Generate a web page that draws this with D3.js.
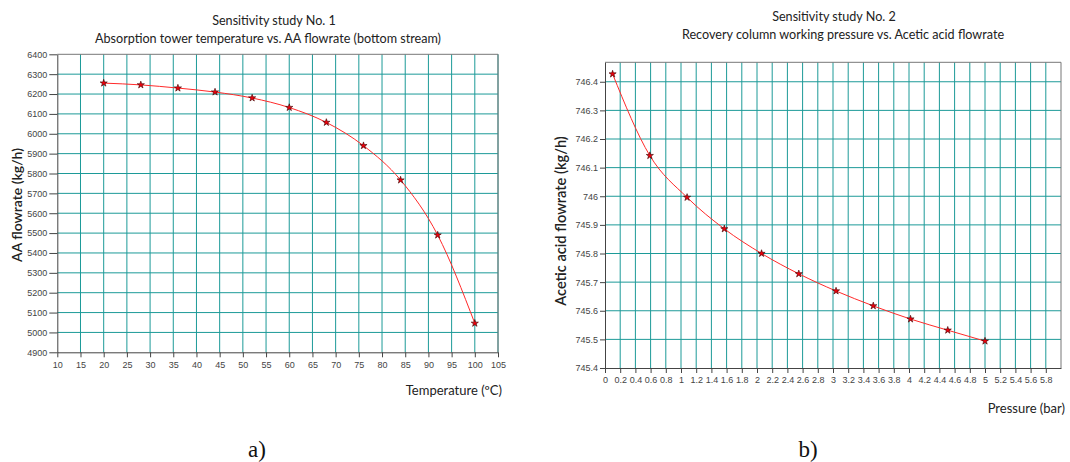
<!DOCTYPE html>
<html>
<head>
<meta charset="utf-8">
<script src="https://cdn.jsdelivr.net/npm/d3@7"></script>
<style>
	body { margin: 0; background: #fff; }
	svg { display: block; }
	.tick text { font-family: "Liberation Sans", Arial, sans-serif; font-size: 9px; fill: #444; }
	.title, .axis-title { font-family: Lato, "Open Sans", sans-serif; fill: #222; }
	.panel { font-family: "Liberation Serif", "Times New Roman", serif; font-size: 23px; fill: #111; }
</style>
</head>
<body>
<div id="root"></div>
<script>
// sensitivity study 1
const tempC = [20, 28, 36, 44, 52, 60, 68, 76, 84, 92, 100]
const aaFlow = [6255, 6246, 6230, 6210, 6180, 6132, 6057, 5940, 5767, 5490, 5046]
const tempTicks = [10, 15, 20, 25, 30, 35, 40, 45, 50, 55, 60, 65, 70, 75, 80, 85, 90, 95, 100, 105]
const aaTicks = [4900, 5000, 5100, 5200, 5300, 5400, 5500, 5600, 5700, 5800, 5900, 6000, 6100, 6200, 6300, 6400]

// sensitivity study 2
const pressureBar = [0.1, 0.59, 1.08, 1.57, 2.06, 2.55, 3.04, 3.53, 4.02, 4.51, 5.0]
const aceticFlow = [746.427, 746.142, 745.996, 745.886, 745.800, 745.729, 745.669, 745.617, 745.571, 745.532, 745.494]
const pressureTicks = [0, 0.2, 0.4, 0.6, 0.8, 1, 1.2, 1.4, 1.6, 1.8, 2, 2.2, 2.4, 2.6, 2.8, 3, 3.2, 3.4, 3.6, 3.8, 4, 4.2, 4.4, 4.6, 4.8, 5, 5.2, 5.4, 5.6, 5.8]
const aceticTicks = [745.4, 745.5, 745.6, 745.7, 745.8, 745.9, 746, 746.1, 746.2, 746.3, 746.4]

const svg = d3.select('#root').append('svg')
	.attr('width', 1070)
	.attr('height', 462)

const GRID = '#1c9a98'

function drawChart (cfg) {
	const x = d3.scaleLinear().domain(cfg.xDomain).range([cfg.left, cfg.right])
	const y = d3.scaleLinear().domain(cfg.yDomain).range([cfg.bottom, cfg.top])

	const g = svg.append('g')

	// grid
	g.selectAll('.vgrid')
		.data(cfg.xTicks.filter(d => d > cfg.xDomain[0]))
		.enter().append('line')
		.attr('x1', d => x(d)).attr('x2', d => x(d))
		.attr('y1', cfg.top).attr('y2', cfg.bottom)
		.attr('stroke', GRID).attr('stroke-width', 1)

	g.selectAll('.hgrid')
		.data(cfg.yTicks.filter(d => d > cfg.yDomain[0] && y(d) > cfg.top + 1))
		.enter().append('line')
		.attr('x1', cfg.left).attr('x2', cfg.right)
		.attr('y1', d => y(d)).attr('y2', d => y(d))
		.attr('stroke', GRID).attr('stroke-width', 1)

	// frame top / right
	g.append('path')
		.attr('d', `M${cfg.left},${cfg.top}H${cfg.right}V${cfg.bottom}`)
		.attr('fill', 'none')
		.attr('stroke', '#777')

	// axes
	g.append('g')
		.attr('transform', `translate(0,${cfg.bottom})`)
		.call(d3.axisBottom(x).tickValues(cfg.xTicks).tickSize(5).tickSizeOuter(0).tickPadding(4).tickFormat(d => String(d)))
		.call(a => a.selectAll('line, path').attr('stroke', '#444'))

	g.append('g')
		.attr('transform', `translate(${cfg.left},0)`)
		.call(d3.axisLeft(y).tickValues(cfg.yTicks).tickSize(cfg.yTickLen).tickSizeOuter(0).tickPadding(2).tickFormat(d => String(d)))
		.call(a => a.selectAll('line, path').attr('stroke', '#444'))

	// curve
	const pts = cfg.xs.map((d, i) => [d, cfg.ys[i]])
	g.append('path')
		.datum(pts)
		.attr('fill', 'none')
		.attr('stroke', '#ff2a2a')
		.attr('stroke-width', 1)
		.attr('d', d3.line().x(d => x(d[0])).y(d => y(d[1])).curve(d3.curveMonotoneX))

	g.selectAll('.star')
		.data(pts)
		.enter().append('path')
		.attr('transform', d => `translate(${x(d[0])},${y(d[1])})`)
		.attr('d', d3.symbol(d3.symbolStar, 16))
		.attr('fill', '#f0000c')
		.attr('stroke', '#3a0000')
		.attr('stroke-width', 0.6)

	// titles
	cfg.titles.forEach(t => {
		g.append('text')
			.attr('class', 'title')
			.attr('x', t.x).attr('y', t.y)
			.attr('text-anchor', 'middle')
			.attr('font-size', 12.6)
			.text(t.text)
	})

	g.append('text')
		.attr('class', 'axis-title')
		.attr('x', cfg.right + 4).attr('y', cfg.xTitleY)
		.attr('text-anchor', 'end')
		.attr('font-size', 13)
		.text(cfg.xTitle)

	g.append('text')
		.attr('class', 'axis-title')
		.attr('transform', `translate(${cfg.yTitleX},${cfg.yTitleY}) rotate(-90)`)
		.attr('text-anchor', 'middle')
		.attr('font-size', cfg.yTitleSize)
		.attr('font-weight', 600)
		.text(cfg.yTitle)

	g.append('text')
		.attr('class', 'panel')
		.attr('x', cfg.panelX).attr('y', 457)
		.attr('text-anchor', 'middle')
		.text(cfg.panel)
}

drawChart({
	xs: tempC, ys: aaFlow,
	xTicks: tempTicks, yTicks: aaTicks,
	xDomain: [10, 105], yDomain: [4900, 6400],
	left: 57.3, right: 498, top: 54.3, bottom: 352.3,
	yTickLen: 8,
	titles: [
		{ text: 'Sensitivity study No. 1', x: 274, y: 25 },
		{ text: 'Absorption tower temperature vs. AA flowrate (bottom stream)', x: 268, y: 43 }
	],
	xTitle: 'Temperature (ºC)', xTitleY: 395,
	yTitle: 'AA flowrate (kg/h)', yTitleX: 22, yTitleY: 205, yTitleSize: 14,
	panel: 'a)', panelX: 257
})

drawChart({
	xs: pressureBar, ys: aceticFlow,
	xTicks: pressureTicks, yTicks: aceticTicks,
	xDomain: [0, 6], yDomain: [745.4, 746.468],
	left: 605, right: 1061, top: 62.3, bottom: 368,
	yTickLen: 5,
	titles: [
		{ text: 'Sensitivity study No. 2', x: 834, y: 21 },
		{ text: 'Recovery column working pressure vs. Acetic acid flowrate', x: 843, y: 39 }
	],
	xTitle: 'Pressure (bar)', xTitleY: 413,
	yTitle: 'Acetic acid flowrate (kg/h)', yTitleX: 566, yTitleY: 221, yTitleSize: 14.6,
	panel: 'b)', panelX: 808
})
</script>
</body>
</html>
